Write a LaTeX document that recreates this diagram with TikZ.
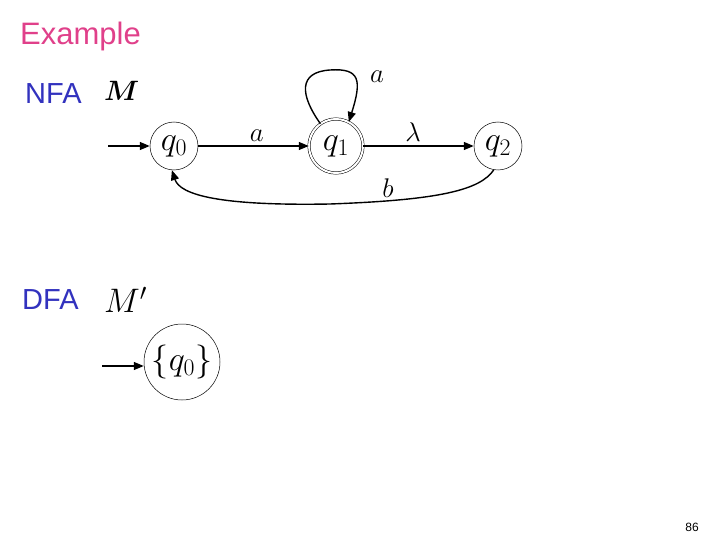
\documentclass[tikz,border=0pt]{standalone}
\usepackage{fix-cm}
\usepackage{amsmath}
\usepackage{fontspec}
\setmainfont{Liberation Sans}
\usetikzlibrary{arrows.meta}
\definecolor{titlepink}{RGB}{224,64,138}
\definecolor{headblue}{RGB}{50,50,190}
\tikzset{
  state/.style={draw,circle,minimum size=48pt,inner sep=0pt,line width=0.5pt},
  accstate/.style={state,double,double distance=2pt},
  edge/.style={line width=1.4pt,-{Triangle[length=10pt,width=8pt]}},
  lbl/.style={font=\fontsize{27}{27}\selectfont},
  stlbl/.style={font=\fontsize{34}{34}\selectfont},
}
\begin{document}
\begin{tikzpicture}[x=1pt,y=-1pt]
\useasboundingbox (0,0) rectangle (720,540);
\node[anchor=west,text=titlepink,font=\fontsize{31}{31}\selectfont,inner sep=0pt] (title) at (20,36) {Example};
\node[anchor=west,text=headblue,font=\fontsize{29}{29}\selectfont,inner sep=0pt] (nfa) at (25,94) {NFA};
\node[anchor=west,font=\fontsize{28}{28}\selectfont,inner sep=0pt] (m) at (104,91) {$\boldsymbol{M}$};
\node[state,stlbl] (q0) at (174,146) {$q_0$};
\node[accstate,minimum size=54pt,stlbl] (q1) at (336,146) {$q_1$};
\node[state,stlbl] (q2) at (498,146) {$q_2$};
\coordinate (s0) at (108,146);
\draw[edge] (s0) -- (q0);
\draw[edge] (q0) -- node[lbl,above=0pt,pos=0.53] {$a$} (q1);
\draw[edge] (q1) -- node[lbl,above=0pt,pos=0.45] {$\lambda$} (q2);
\draw[edge] (q1.125) .. controls (300,95) and (298,72) .. (330,70) .. controls (360,68) and (362,80) .. (q1.62);
\node[lbl] (la) at (377,77) {$a$};
\draw[edge] (q2.260) .. controls (480,190) and (440,200) .. (330,204) .. controls (220,206) and (180,195) .. (q0.265);
\node[lbl] (lb) at (388,188) {$b$};
\node[anchor=west,text=headblue,font=\fontsize{29}{29}\selectfont,inner sep=0pt] (dfa) at (22,300) {DFA};
\node[anchor=west,font=\fontsize{34}{34}\selectfont,inner sep=0pt] (mp) at (104,300) {$M'$};
\node[state,minimum size=76pt,stlbl] (d0) at (182,362) {$\{q_0\}$};
\coordinate (sd) at (102,366);
\draw[edge] (sd) -- (d0.west |- sd);
\node[font=\fontsize{12}{12}\selectfont] (pg) at (692,527) {86};
\end{tikzpicture}
\end{document}
